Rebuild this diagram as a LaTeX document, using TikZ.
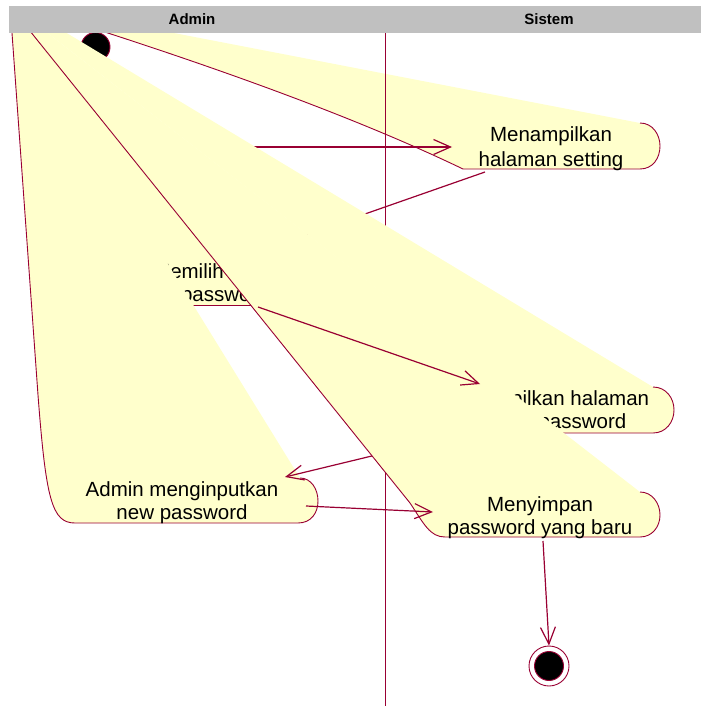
\documentclass[tikz,border=0pt]{standalone}
\usepackage{fontspec}
\setmainfont{Liberation Sans}
\usetikzlibrary{arrows.meta}

\definecolor{actfill}{HTML}{FFFFCC}
\definecolor{actline}{HTML}{990033}
\definecolor{lanegray}{HTML}{C0C0C0}

\begin{document}
\begin{tikzpicture}[x=1pt,y=-1pt,
        act/.style={fill=actfill},
        rim/.style={draw=actline,line width=0.9pt},
        flow/.style={draw=actline,line width=1.2pt,-{Straight Barb[length=17pt,width=15pt]}},
        lbl/.style={anchor=base,inner sep=0pt,font=\fontsize{20.5}{24}\selectfont},
        lanelbl/.style={anchor=base,inner sep=0pt,font=\fontsize{15}{18}\selectfont\bfseries},
        stnode/.style={circle,draw=actline,line width=0.9pt,inner sep=0pt}]

    \useasboundingbox (0,0) rectangle (701,706);
    \coordinate (O) at (5,0);

    \begin{scope}
        \clip (0,33) rectangle (701,706);

        % Menampilkan halaman setting
        \filldraw[act,rim] (640,123) .. controls (653,123) and (660,135) .. (660,146)
            .. controls (660,158) and (653,169) .. (640,169) -- (463,169)
            .. controls (330,105) and (150,45) .. (3,0);
        \node[lbl] (setA) at (551,142) {Menampilkan};
        \node[lbl] (setB) at (551,166) {halaman setting};

        \draw[actline,line width=1pt] (385,33) -- (385,706);

        \node[stnode,fill=black,minimum size=29pt] (mulai) at (95.5,47) {};

        \coordinate (mulaiOut) at (200,147);
        \coordinate (setIn) at (452,147);
        \coordinate (setOut) at (485,172);
        \coordinate (pilihIn) at (262,250);
        \draw[flow] (mulaiOut) -- (setIn);
        \draw[flow] (setOut) -- (pilihIn);

        % Memilih change password
        \fill[act] (O) -- (265,258) .. controls (278,258) and (287,270) .. (287,281)
            .. controls (287,293) and (278,305) .. (265,305) -- (100,305) -- cycle;
        \draw[rim] (265,305) -- (100,305);
        \node[lbl] (pilihA) at (188.5,278) {Memilih};
        \node[lbl] (pilihB) at (188.5,301) {change password};

        % Menampilkan halaman change password
        \fill[act] (O) -- (12,0) -- (653,387) .. controls (666,387) and (674,398) .. (674,410)
            .. controls (674,422) and (666,433) .. (653,433) -- (563,433) -- cycle;
        \draw[rim] (653,387) .. controls (666,387) and (674,398) .. (674,410)
            .. controls (674,422) and (666,433) .. (653,433) -- (563,433);
        \node[lbl] (gantiA) at (546,405) {Menampilkan halaman};
        \node[lbl] (gantiB) at (546,428) {change password};

        % Admin menginputkan new password
        \filldraw[act,rim] (O) -- (12,33) -- (38,395) .. controls (46,500) and (52,523) .. (75,523)
            -- (298,523) .. controls (311,523) and (318,513) .. (318,501)
            .. controls (318,489) and (311,478) .. (300,478);
        \node[lbl] (inputA) at (182,496) {Admin menginputkan};
        \node[lbl] (inputB) at (182,519) {new password};

        \coordinate (gantiOut) at (500,425);
        \coordinate (inputIn) at (285,477);
        \draw[flow] (gantiOut) -- (inputIn);

        % Menyimpan password yang baru
        \filldraw[act,rim] (O) -- (410,503) .. controls (424,524) and (430,537) .. (445,537)
            -- (640,537) .. controls (652,537) and (660,527) .. (660,515)
            .. controls (660,503) and (652,492) .. (640,492);
        \node[lbl] (simpanA) at (540,511) {Menyimpan};
        \node[lbl] (simpanB) at (540,534) {password yang baru};

        \node[stnode,minimum size=40pt] (akhir) at (549,666) {};
        \node[stnode,fill=black,minimum size=29pt] (akhirIsi) at (akhir) {};

        \coordinate (pilihOut) at (258,307);
        \coordinate (gantiIn) at (480,384);
        \coordinate (inputOut) at (306,506);
        \coordinate (simpanIn) at (433,512);
        \coordinate (simpanOut) at (543,541);
        \draw[flow] (pilihOut) -- (gantiIn);
        \draw[flow] (inputOut) -- (simpanIn);
        \draw[flow] (simpanOut) -- (akhir.north);
    \end{scope}

    % swimlane header
    \fill[lanegray] (9,6) rectangle (701,33);
    \node[lanelbl] (laneAdmin) at (192,25) {Admin};
    \node[lanelbl] (laneSistem) at (549,25) {Sistem};
\end{tikzpicture}
\end{document}
